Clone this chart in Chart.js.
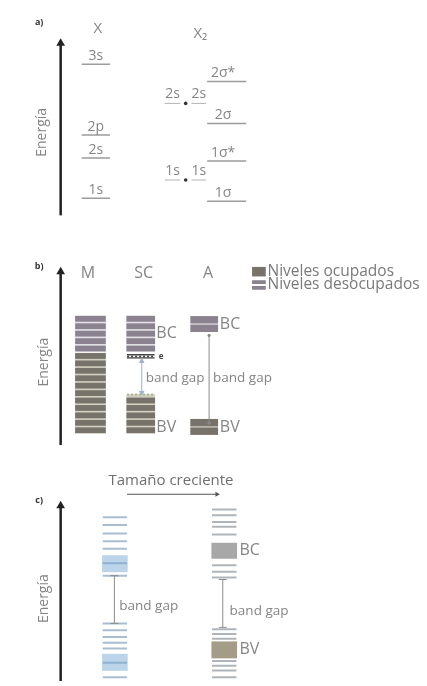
<!DOCTYPE html>
<html lang="es">
<head>
<meta charset="utf-8">
<script src="https://cdn.jsdelivr.net/npm/chart.js@4.4.1/dist/chart.umd.min.js"></script>
<style>
  html, body { margin: 0; padding: 0; background: #fff; }
  body { width: 427px; height: 686px; position: relative; overflow: hidden; }
  .panel { position: absolute; left: 0; width: 427px; }
  .panel canvas { display: block; }
</style>
</head>
<body>
<div class="panel" style="top:0;height:230px"><canvas id="chartA"></canvas></div>
<div class="panel" style="top:240px;height:210px"><canvas id="chartB"></canvas></div>
<div class="panel" style="top:450px;height:236px"><canvas id="chartC"></canvas></div>
<script>
// ---- a) atom X and molecule X2 (energy, arbitrary units) ----
const atomLevels = ['1s', '2s', '2p', '3s'];
const atomEnergy = [1.0, 2.5, 3.36, 6.0];
const pairLevels = ['1s', '2s'];
const pairEnergy = [1.68, 4.54];
const orbitalLevels = ['1σ', '1σ*', '2σ', '2σ*'];
const orbitalEnergy = [0.89, 2.39, 3.79, 5.36];

// ---- b) metal (M), semiconductor (SC), insulator (A) ----
const solidColumns = ['M', 'SC', 'A'];
const metalEmpty = [13.25, 12.47, 11.69, 10.91, 10.13];
const metalFull = [9.35, 8.57, 7.79, 7.01, 6.23, 5.45, 4.67, 3.89, 3.11, 2.33, 1.55];
const semiEmpty = [13.25, 12.47, 11.69, 10.91, 10.13];
const semiDopant = 9.3;
const semiEdge = 5.3;
const semiFull = [4.67, 3.89, 3.11, 2.33, 1.55];
const semiGap = [5.5, 8.8];
const insulEmpty = [13.15, 12.25];
const insulFull = [2.35, 1.45];
const insulGap = [2.3, 11.5];

// ---- c) nanocrystal levels, growing size ----
const smallLines = [17.1, 16.3, 15.4, 14.6, 13.8, 11.0, 6.0, 5.3, 4.6, 4.0, 3.4, 0.4];
const smallBands = [[11.4, 13.1], [1.1, 2.8]];
const smallBandLines = [12.3, 1.9];
const smallGap = [6.0, 11.0];
const largeLines = [17.9, 17.3, 16.6, 16.1, 15.3, 12.1, 11.4, 10.8, 5.4, 4.9, 4.4, 2.1, 1.6, 1.1, 0.4];
const largeBC = [12.8, 14.4];
const largeBV = [2.4, 4.1];
const largeGap = [5.6, 10.6];

// layout: x runs in units of ~25px
const X_MIN = -3.5, X_MAX = 13.58;
const AXIS_X = -1.22;
const FONT = '"Open Sans", "Noto Sans", sans-serif';
const GREY = '#858585';

// text / legend boxes drawn on the chart's own scales
const notesPlugin = {
  id: 'notes',
  afterDatasetsDraw(chart, args, opts) {
    const { ctx, scales: { x, y } } = chart;
    (opts.items || []).forEach(n => {
      ctx.save();
      if (n.box) {
        const x0 = x.getPixelForValue(n.box[0]), x1 = x.getPixelForValue(n.box[1]);
        const y0 = y.getPixelForValue(n.box[2]), y1 = y.getPixelForValue(n.box[3]);
        ctx.fillStyle = n.color;
        ctx.fillRect(x0, y0, x1 - x0, y1 - y0);
        if (n.stripe) {
          ctx.fillStyle = '#fff';
          ctx.fillRect(x0, (y0 + y1) / 2 - 1, x1 - x0, 2);
        }
      } else {
        ctx.font = n.font || '14px ' + FONT;
        ctx.fillStyle = n.color || GREY;
        ctx.textAlign = n.align || 'center';
        ctx.textBaseline = n.baseline || 'middle';
        ctx.translate(x.getPixelForValue(n.x) + (n.dx || 0), y.getPixelForValue(n.y) + (n.dy || 0));
        if (n.rotate) ctx.rotate(n.rotate);
        ctx.fillText(n.text, 0, 0);
      }
      ctx.restore();
    });
  }
};
Chart.register(notesPlugin);

function baseOptions(yMax, items) {
  return {
    responsive: true,
    maintainAspectRatio: false,
    animation: false,
    events: [],
    layout: { padding: 0 },
    plugins: { legend: { display: false }, tooltip: { enabled: false }, notes: { items } },
    scales: {
      x: { type: 'linear', min: X_MIN, max: X_MAX, display: false, offset: false },
      y: { type: 'linear', min: 0, max: yMax, display: false }
    }
  };
}

function segments(energies, cx, half) {
  const pts = [];
  energies.forEach(e => {
    pts.push({ x: cx - half, y: e }, { x: cx + half, y: e }, { x: cx + half, y: null });
  });
  return pts;
}

function lineSet(data, color, width, extra) {
  return Object.assign({
    type: 'line', data, borderColor: color, borderWidth: width,
    pointRadius: 0, fill: false, tension: 0, order: 0
  }, extra || {});
}

function barSet(data, color, thickness, extra) {
  return Object.assign({
    type: 'bar', data, backgroundColor: color, barThickness: thickness,
    grouped: false, borderWidth: 0, borderSkipped: false, order: 1
  }, extra || {});
}

function bands(energies, cx, half) {
  return energies.map(e => ({ x: cx, y: [e - half, e + half] }));
}

function axisArrow(lo, hi) {
  return lineSet([{ x: AXIS_X, y: lo }, { x: AXIS_X, y: hi }], '#222', 2.5, {
    pointRadius: [0, 5], pointStyle: 'triangle',
    pointBackgroundColor: '#222', pointBorderWidth: 0
  });
}

function gapMarker(range, cx, color, style, radius, dash) {
  return lineSet([{ x: cx, y: range[0] }, { x: cx, y: range[1] }], color, 1, {
    pointRadius: radius, pointStyle: style, pointRotation: [180, 0],
    pointBackgroundColor: color, pointBorderColor: color, pointBorderWidth: 1,
    borderDash: dash || []
  });
}

// ---------------- a) ----------------
const colX = 0.22, colL = 3.36, colR = 4.44, colMO = 5.58;
const itemsA = [
  { x: -2.1, y: 7.57, text: 'a)', font: 'bold 9px ' + FONT, color: '#333' },
  { x: 0.3, y: 7.32, text: 'X', font: '15px ' + FONT },
  { x: 4.5, y: 7.14, text: 'X₂', font: '15px ' + FONT },
  { x: -1.98, y: 3.46, text: 'Energía', rotate: -Math.PI / 2 }
];
atomLevels.forEach((t, i) => itemsA.push({ x: colX, y: atomEnergy[i], dy: -4, baseline: 'alphabetic', text: t }));
pairLevels.forEach((t, i) => {
  itemsA.push({ x: colL, y: pairEnergy[i], dy: -5, baseline: 'alphabetic', text: t });
  itemsA.push({ x: colR, y: pairEnergy[i], dy: -5, baseline: 'alphabetic', text: t });
});
orbitalLevels.forEach((t, i) => itemsA.push({ x: colMO - 0.15, y: orbitalEnergy[i], dy: -4, baseline: 'alphabetic', text: t }));

new Chart(document.getElementById('chartA'), {
  type: 'line',
  data: {
    datasets: [
      lineSet(segments(atomEnergy, colX, 0.58), '#9c9c9c', 1.5),
      lineSet(segments(pairEnergy, colL, 0.32), '#b4b4b4', 1),
      lineSet(segments(pairEnergy, colR, 0.3), '#b4b4b4', 1),
      lineSet(segments(orbitalEnergy, colMO, 0.8), '#9c9c9c', 1.5),
      lineSet(pairEnergy.map(e => ({ x: 3.9, y: e })), '#333', 0, {
        showLine: false, pointRadius: 1.8, pointBackgroundColor: '#333', pointBorderWidth: 0
      }),
      axisArrow(0.36, 6.79)
    ]
  },
  options: baseOptions(230 / 28, itemsA)
});

// ---------------- b) ----------------
const colM = 0, colSC = 2.06, colA = 4.66;
const EMPTY = '#8b8290', FULL = '#78736a';
const itemsB = [
  { x: -2.1, y: 18.8, text: 'b)', font: 'bold 9px ' + FONT, color: '#333' },
  { x: -1.9, y: 8.7, text: 'Energía', rotate: -Math.PI / 2 },
  { x: -0.1, y: 18.0, text: solidColumns[0], font: '16px ' + FONT },
  { x: 2.18, y: 18.0, text: solidColumns[1], font: '16px ' + FONT },
  { x: 4.82, y: 18.0, text: solidColumns[2], font: '16px ' + FONT },
  { box: [6.62, 7.18, 18.7, 17.7], color: FULL },
  { box: [6.62, 7.18, 17.3, 16.3], color: EMPTY, stripe: true },
  { x: 7.25, y: 18.2, text: 'Niveles ocupados', align: 'left', font: '15.5px ' + FONT, color: '#7a7a7a' },
  { x: 7.25, y: 16.8, text: 'Niveles desocupados', align: 'left', font: '15.5px ' + FONT, color: '#7a7a7a' },
  { x: 2.7, y: semiEmpty[2], text: 'BC', align: 'left', font: '16px ' + FONT },
  { x: 5.3, y: (insulEmpty[0] + insulEmpty[1]) / 2, text: 'BC', align: 'left', font: '16px ' + FONT },
  { x: 2.7, y: semiFull[4] + 0.25, text: 'BV', align: 'left', font: '16px ' + FONT },
  { x: 5.3, y: (insulFull[0] + insulFull[1]) / 2 - 0.1, text: 'BV', align: 'left', font: '16px ' + FONT },
  { x: 2.8, y: semiDopant, text: 'e', align: 'left', font: 'bold 8px ' + FONT, color: '#444' },
  { x: 2.26, y: 7.0, text: 'band gap', align: 'left', font: '13.5px ' + FONT },
  { x: 5.02, y: 7.0, text: 'band gap', align: 'left', font: '13.5px ' + FONT }
];

new Chart(document.getElementById('chartB'), {
  type: 'bar',
  data: {
    datasets: [
      // band markers and dopant level on top
      gapMarker(semiGap, colSC + 0.04, '#9fb2c8', 'triangle', 2.5),
      gapMarker(insulGap, colA + 0.2, '#8a8a8a', 'circle', 1.2),
      lineSet([{ x: colSC - 0.56, y: semiDopant }, { x: colSC + 0.56, y: semiDopant }], '#444', 1.5, { borderDash: [2, 2] }),
      lineSet([{ x: colSC - 0.56, y: semiEdge }, { x: colSC + 0.56, y: semiEdge }], '#a9b893', 2, { borderDash: [2, 2] }),
      // levels
      barSet(bands(metalEmpty, colM, 0.27), EMPTY, 30),
      barSet(bands(metalFull, colM, 0.27), FULL, 30),
      barSet(bands(semiEmpty, colSC, 0.27), EMPTY, 28),
      barSet([{ x: colSC, y: [semiDopant - 0.22, semiDopant + 0.22] }], '#fff', 28, {
        borderColor: '#444', borderWidth: { top: 1.5, bottom: 1.5, left: 0, right: 0 }
      }),
      barSet(bands(semiFull, colSC, 0.27), FULL, 28),
      barSet(bands(insulEmpty, colA, 0.35), EMPTY, 27),
      barSet(bands(insulFull, colA, 0.35), FULL, 27),
      // backdrops between levels
      barSet([{ x: colM, y: [metalEmpty[4] - 0.3, metalEmpty[0] + 0.3] }], '#e3e0e5', 30, { order: 2 }),
      barSet([{ x: colM, y: [metalFull[10] - 0.3, metalFull[0] + 0.3] }], '#d2d0c1', 30, { order: 2 }),
      barSet([{ x: colSC, y: [semiEmpty[4] - 0.3, semiEmpty[0] + 0.3] }], '#e3e0e5', 28, { order: 2 }),
      barSet([{ x: colSC, y: [semiFull[4] - 0.3, semiEdge] }], '#d2d0c1', 28, { order: 2 }),
      barSet([{ x: colA, y: [insulEmpty[1] - 0.35, insulEmpty[0] + 0.35] }], '#e3e0e5', 27, { order: 2 }),
      barSet([{ x: colA, y: [insulFull[1] - 0.35, insulFull[0] + 0.35] }], '#d2d0c1', 27, { order: 2 }),
      axisArrow(0, 18.2)
    ]
  },
  options: baseOptions(21, itemsB)
});

// ---------------- c) ----------------
const colSmall = 1.0, colLarge = 5.48;
const itemsC = [
  { x: 3.3, y: 20.9, text: 'Tamaño creciente', font: '15px ' + FONT, color: '#6f6f6f' },
  { x: -2.1, y: 18.9, text: 'c)', font: 'bold 9px ' + FONT, color: '#333' },
  { x: -1.9, y: 8.6, text: 'Energía', rotate: -Math.PI / 2 },
  { x: 6.1, y: (largeBC[0] + largeBC[1]) / 2, text: 'BC', align: 'left', font: '16px ' + FONT },
  { x: 6.1, y: (largeBV[0] + largeBV[1]) / 2, text: 'BV', align: 'left', font: '16px ' + FONT },
  { x: 1.18, y: 7.8, text: 'band gap', align: 'left', font: '13.5px ' + FONT },
  { x: 5.7, y: 7.3, text: 'band gap', align: 'left', font: '13.5px ' + FONT }
];

new Chart(document.getElementById('chartC'), {
  type: 'line',
  data: {
    datasets: [
      lineSet([{ x: 1.5, y: 19.5 }, { x: 5.18, y: 19.5 }], '#555', 1, {
        pointRadius: [0, 3], pointStyle: 'triangle', pointRotation: 90,
        pointBackgroundColor: '#555', pointBorderWidth: 0
      }),
      gapMarker(smallGap, colSmall - 0.02, '#8d8d8d', 'line', 4),
      gapMarker(largeGap, colLarge - 0.06, '#8d8d8d', 'line', 4),
      lineSet(segments(smallBandLines, colSmall, 0.5), '#8fb0cf', 2),
      lineSet(segments(smallLines, colSmall, 0.5), '#a9bdd0', 2),
      lineSet(segments(largeLines, colLarge, 0.5), '#aeb5bc', 2),
      barSet(smallBands.map(r => ({ x: colSmall, y: r })), '#bcd4ea', 25),
      barSet([{ x: colLarge, y: largeBC }], '#a8a8a8', 25),
      barSet([{ x: colLarge, y: largeBV }], '#a39c86', 25),
      axisArrow(0, 18.3)
    ]
  },
  options: baseOptions(23.6, itemsC)
});
</script>
</body>
</html>
